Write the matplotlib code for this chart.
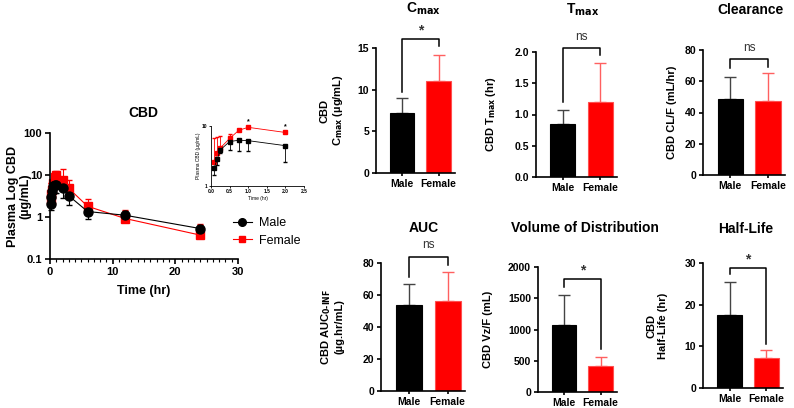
import matplotlib
matplotlib.use("Agg")
import matplotlib.pyplot as plt
from matplotlib.lines import Line2D
from matplotlib.ticker import MultipleLocator, FixedLocator, NullLocator

plt.rcParams['font.family'] = ['Liberation Sans', 'DejaVu Sans']
plt.rcParams['font.weight'] = 'bold'
plt.rcParams['axes.linewidth'] = 1.2

W, H = 794, 408
BLACK = "#000000"
RED = "#ff0000"

# ---- concentration-time data ----
time_hr = [0.083, 0.167, 0.25, 0.5, 0.75, 1, 2, 3, 6, 12, 24]
male_conc = [2.0, 3.0, 4.2, 5.5, 5.8, 5.8, 4.8, 3.2, 1.35, 1.1, 0.53]
male_low = [1.5, 2.4, 3.6, 4.0, 3.8, 3.8, 2.8, 1.9, 0.9, 1.1, 0.45]
male_high = [2.0, 3.0, 4.2, 5.5, 5.8, 5.8, 4.8, 3.2, 1.35, 1.4, 0.65]
female_conc = [2.6, 3.6, 4.5, 6.5, 8.8, 9.8, 7.8, 4.8, 1.8, 0.92, 0.37]
female_high = [6.3, 6.5, 6.8, 7.6, 12.0, 12.5, 14.0, 7.8, 2.7, 1.5, 0.68]

# inset (first 2 hours)
inset_time = [0.083, 0.167, 0.25, 0.5, 0.75, 1, 2]
inset_male = [2.0, 2.8, 4.0, 5.5, 5.8, 5.7, 4.7]
inset_male_low = [1.5, 2.2, 3.6, 4.0, 3.8, 3.8, 2.5]
inset_female = [2.5, 3.5, 4.3, 6.2, 8.5, 9.5, 7.8]
inset_female_high = [6.3, 6.5, 6.8, 7.3, 8.5, 9.5, 7.8]
inset_stars_t = [1, 2]

# ---- PK parameter bar data ----
groups = ["Male", "Female"]
cmax_mean = [7.2, 11.1]
cmax_top = [9.0, 14.2]
tmax_mean = [0.85, 1.2]
tmax_top = [1.08, 1.83]
cl_mean = [48.5, 47.3]
cl_top = [63.0, 65.0]
auc_mean = [53.7, 56.3]
auc_top = [66.8, 74.5]
vz_mean = [1065, 420]
vz_top = [1560, 560]
hl_mean = [17.5, 7.2]
hl_top = [25.4, 9.2]

fig = plt.figure(figsize=(W / 100, H / 100), dpi=100)


def rect(x0, y0, x1, y1):
    # pixel box -> figure fraction
    return [x0 / W, 1 - y1 / H, (x1 - x0) / W, (y1 - y0) / H]


def ftext(x, y, s, **kw):
    fig.text(x / W, 1 - y / H, s, ha='center', va='center', **kw)


# ---------- main concentration plot ----------
ax = fig.add_axes(rect(50, 133, 238, 259))
ax.set_yscale('log')
ax.errorbar(time_hr, male_conc,
            yerr=[[c - l for c, l in zip(male_conc, male_low)],
                  [h - c for c, h in zip(male_conc, male_high)]],
            color=BLACK, marker='o', ms=6.5, lw=0.8, capsize=2.5,
            elinewidth=0.8, clip_on=False, zorder=3)
ax.errorbar(time_hr, female_conc,
            yerr=[[0] * len(female_conc),
                  [h - c for c, h in zip(female_conc, female_high)]],
            color=RED, marker='s', ms=6, lw=0.8, capsize=2.5,
            elinewidth=0.8, clip_on=False, zorder=2)
ax.set_xlim(0, 30)
ax.set_ylim(0.1, 100)
ax.xaxis.set_major_locator(MultipleLocator(10))
ax.xaxis.set_minor_locator(MultipleLocator(1))
ax.yaxis.set_major_locator(FixedLocator([0.1, 1, 10, 100]))
ax.yaxis.set_minor_locator(NullLocator())
ax.set_yticklabels(['0.1', '1', '10', '100'])
ax.tick_params(labelsize=8, width=1.2, length=3.5, pad=2)
ax.tick_params(which='minor', length=2, width=0.8)
for s in ['top', 'right']:
    ax.spines[s].set_visible(False)
ax.set_xlabel('Time (hr)', fontsize=9, fontweight='bold', labelpad=6)
ax.set_ylabel('Plasma Log CBD\n(µg/mL)', fontsize=9, fontweight='bold',
              linespacing=1.05)
ax.yaxis.set_label_coords(-0.10, 0.5)
handles = [Line2D([], [], color=BLACK, marker='o', ms=5.5, lw=0.8),
           Line2D([], [], color=RED, marker='s', ms=5, lw=0.8)]
fig.legend(handles, ['Male', 'Female'], loc='upper left',
           bbox_to_anchor=(233 / W, 1 - 217 / H), frameon=False,
           handlelength=1.5, handletextpad=0.6, labelspacing=0.45,
           borderaxespad=0, borderpad=0,
           prop={'weight': 'normal', 'size': 9})
ftext(143, 113, 'CBD', fontsize=10, fontweight='bold')

# ---------- inset ----------
axi = fig.add_axes(rect(211, 126, 304, 186))
axi.set_yscale('log')
axi.errorbar(inset_time, inset_male,
             yerr=[[c - l for c, l in zip(inset_male, inset_male_low)],
                   [0] * len(inset_male)],
             color=BLACK, marker='s', ms=2.2, lw=0.6, capsize=1.5,
             elinewidth=0.6, clip_on=False, zorder=3)
axi.errorbar(inset_time, inset_female,
             yerr=[[0] * len(inset_female),
                   [h - c for c, h in zip(inset_female, inset_female_high)]],
             color=RED, marker='s', ms=2.2, lw=0.6, capsize=1.5,
             elinewidth=0.6, clip_on=False, zorder=2)
for t in inset_stars_t:
    yv = inset_female[inset_time.index(t)]
    axi.text(t, yv * 1.25, '*', ha='center', va='center', fontsize=5)
axi.set_xlim(0, 2.5)
axi.set_ylim(1, 10)
axi.xaxis.set_major_locator(MultipleLocator(0.5))
axi.xaxis.set_minor_locator(NullLocator())
axi.yaxis.set_major_locator(FixedLocator([1, 10]))
axi.yaxis.set_minor_locator(NullLocator())
axi.set_yticklabels(['1', '10'])
axi.set_xticklabels([f'{v:.1f}' for v in axi.get_xticks()])
axi.tick_params(labelsize=3.5, width=0.6, length=1.5, pad=1)
for s in ['top', 'right']:
    axi.spines[s].set_visible(False)
for s in ['left', 'bottom']:
    axi.spines[s].set_linewidth(0.6)
axi.set_xlabel('Time (hr)', fontsize=3.5, labelpad=1)
axi.set_ylabel('Plasma CBD (µg/mL)', fontsize=3.5, labelpad=1)


# ---------- bar panels ----------
def bar_panel(box, title, title_xy, ylabel, label_x, means, tops, ylim,
              step, sig, bracket):
    a = fig.add_axes(rect(*box))
    colors = [BLACK, RED]
    edges = [BLACK, "#ff5050"]
    for i in range(2):
        a.bar(i, means[i], width=0.67, color=colors[i], edgecolor=edges[i],
              lw=0.8, zorder=2)
        ecol = "#444444" if i == 0 else "#ff6060"
        a.errorbar(i, means[i], yerr=[[0], [tops[i] - means[i]]], fmt='none',
                   ecolor=ecol, elinewidth=1, capsize=4, capthick=1, zorder=1)
    a.set_xlim(-0.72, 1.45)
    a.set_ylim(*ylim)
    a.yaxis.set_major_locator(MultipleLocator(step))
    a.set_xticks([0, 1])
    a.set_xticklabels(groups, fontsize=7.5, fontweight='bold')
    a.tick_params(axis='y', labelsize=7.5, width=1.2, length=3, pad=2)
    a.tick_params(axis='x', width=1.2, length=2.5, pad=1.5)
    for s in ['top', 'right']:
        a.spines[s].set_visible(False)
    a.set_ylabel(ylabel, fontsize=8, fontweight='bold', linespacing=1.15)
    a.yaxis.set_label_coords(label_x, 0.5)
    # significance bracket: (top, left leg bottom, right leg bottom)
    top, yl, yr = bracket
    a.plot([0, 0, 1, 1], [yl, top, top, yr], color=BLACK, lw=1.1,
           clip_on=False)
    span = ylim[1] - ylim[0]
    fs = 10 if sig == '*' else 8.5
    off = 0.07 if sig == '*' else 0.09
    a.text(0.5, top + span * off, sig, ha='center', va='center',
           fontsize=fs, fontweight='bold' if sig == '*' else 'normal',
           color="#333333")
    ftext(*title_xy, title, fontsize=10, fontweight='bold')
    return a


bar_panel((376, 48, 455, 173), r'C$_{\mathbf{max}}$', (423, 9),
          'CBD\n' + r'C$_{\mathbf{max}}$ (µg/mL)', -0.39,
          cmax_mean, cmax_top, (0, 15), 5, '*', (16.1, 9.7, 15.2))
bar_panel((536, 52, 617, 177), r'T$_{\mathbf{max}}$', (583, 10),
          r'CBD T$_{\mathbf{max}}$ (hr)', -0.47,
          tmax_mean, tmax_top, (0, 2), 0.5, 'ns', (2.06, 1.2, 1.95))
bar_panel((703, 50, 785, 175), 'Clearance', (750, 10),
          'CBD CL/F (mL/hr)', -0.32,
          cl_mean, cl_top, (0, 80), 20, 'ns', (74.2, 68.5, 69))
bar_panel((381, 263, 465, 391), 'AUC', (424, 228),
          r'CBD AUC$_{\mathbf{0\text{-}INF}}$' + '\n(µg.hr/mL)', -0.44,
          auc_mean, auc_top, (0, 80), 20, 'ns', (83.8, 71, 79))
bar_panel((538, 267, 617, 392), 'Volume of Distribution', (585, 228),
          'CBD Vz/F (mL)', -0.57,
          vz_mean, vz_top, (0, 2000), 500, '*', (1808, 1680, 688))
bar_panel((703, 263, 783, 388), 'Half-Life', (746, 229),
          'CBD\nHalf-Life (hr)', -0.44,
          hl_mean, hl_top, (0, 30), 10, '*', (28.8, 27.4, 10.6))

fig.savefig('out.png', dpi=100, facecolor='white')
